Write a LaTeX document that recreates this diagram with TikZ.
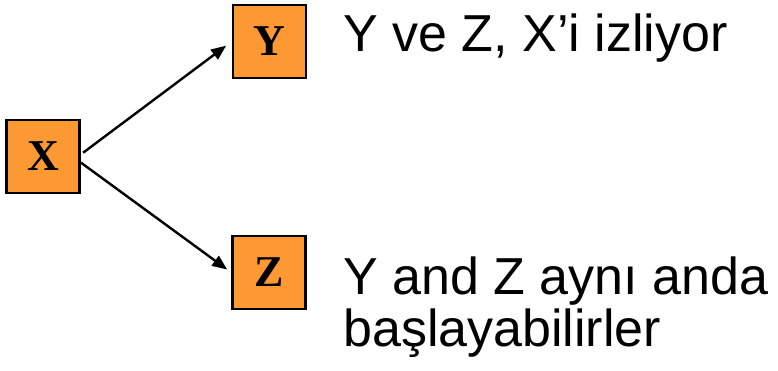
\documentclass[tikz,border=0pt]{standalone}
\usepackage{fontspec}
\setmainfont{Liberation Sans}
\newfontfamily\boxfont{Liberation Serif}
\usetikzlibrary{arrows.meta}
\definecolor{boxorange}{RGB}{253,153,51}
\tikzset{
  taskbox/.style={draw, line width=2.5pt, fill=boxorange, minimum size=73pt, inner sep=0pt, font=\boxfont\fontsize{44}{44}\selectfont\bfseries},
  link/.style={line width=2.4pt, -{Triangle[length=15pt,width=12pt]}},
  note/.style={anchor=base west, inner sep=0pt, align=left, font=\fontsize{52}{52}\selectfont}
}
\begin{document}
\begin{tikzpicture}[x=1pt, y=1pt]
            \useasboundingbox (0,0) rectangle (778,371);
            \node[taskbox] (X) at (43,214.5) {X};
            \node[taskbox] (Y) at (269.5,329.5) {Y};
            \node[taskbox] (Z) at (269,98.5) {Z};
            \draw[link, shorten <=3pt, shorten >=7pt] ([yshift=2pt]X.east) -- (Y.west);
            \draw[link, shorten >=5pt] ([yshift=-6pt]X.east) -- (Z.west);
            \node[note] (ordertext) at (343,319) {Y ve Z, X’i izliyor};
            \node[note] (paralleltext) at (343,24) {Y and Z aynı anda\\başlayabilirler}; % base is the last line
        \end{tikzpicture}
\end{document}
